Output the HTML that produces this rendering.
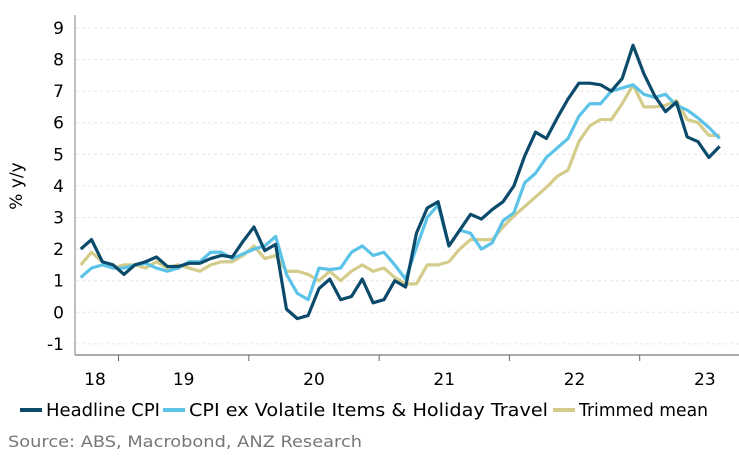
<!DOCTYPE html>
<html><head><meta charset="utf-8"><style>
body{margin:0;background:#fff;font-family:"DejaVu Sans","Liberation Sans",sans-serif;}
svg text{font-family:"DejaVu Sans","Liberation Sans",sans-serif;}
</style></head><body>
<svg id="chart" width="739" height="459" xmlns="http://www.w3.org/2000/svg">
<g id="grid"></g>
<g id="yaxis"></g>
<g id="xaxis"></g>
<g id="series"></g>
<text transform="translate(22,186) rotate(-90)" text-anchor="middle" font-size="17" fill="#000">% y/y</text>
<g font-size="17.5" fill="#000">
<g><line x1="20" y1="410" x2="42" y2="410" stroke="#0b4a6b" stroke-width="4"/><text x="46" y="416" textLength="114" lengthAdjust="spacingAndGlyphs">Headline CPI</text></g>
<g><line x1="163" y1="410" x2="185" y2="410" stroke="#5cc3e8" stroke-width="4"/><text x="189" y="416" textLength="359" lengthAdjust="spacingAndGlyphs">CPI ex Volatile Items &amp; Holiday Travel</text></g>
<g><line x1="553" y1="410" x2="575" y2="410" stroke="#d3cc8b" stroke-width="4"/><text x="579" y="416" textLength="129" lengthAdjust="spacingAndGlyphs">Trimmed mean</text></g>
</g>
<text x="8" y="447" font-size="16" fill="#777" textLength="354" lengthAdjust="spacingAndGlyphs">Source: ABS, Macrobond, ANZ Research</text>
</svg>
<script>
const yTicks=[-1,0,1,2,3,4,5,6,7,8,9];
const yearLabels=["18","19","20","21","22","23"];
const headline=[2.0,2.3,1.6,1.5,1.2,1.5,1.6,1.75,1.45,1.45,1.55,1.55,1.7,1.8,1.75,2.25,2.7,1.95,2.15,0.1,-0.2,-0.1,0.75,1.05,0.4,0.5,1.05,0.3,0.4,1.0,0.8,2.5,3.3,3.5,2.1,2.6,3.1,2.95,3.25,3.5,4.0,4.95,5.7,5.5,6.15,6.75,7.25,7.25,7.2,7.0,7.4,8.45,7.55,6.85,6.35,6.65,5.55,5.4,4.9,5.25];
const exVolatile=[1.1,1.4,1.5,1.4,1.4,1.5,1.55,1.4,1.3,1.4,1.6,1.6,1.9,1.9,1.7,1.85,2.0,2.1,2.4,1.2,0.6,0.4,1.4,1.35,1.4,1.9,2.1,1.8,1.9,1.5,1.05,2.05,3.0,3.4,2.1,2.6,2.5,2.0,2.2,2.9,3.15,4.1,4.4,4.9,5.2,5.5,6.2,6.6,6.6,7.0,7.1,7.2,6.9,6.8,6.9,6.55,6.4,6.15,5.85,5.5];
const trimmed=[1.5,1.9,1.6,1.4,1.5,1.5,1.4,1.6,1.4,1.5,1.4,1.3,1.5,1.6,1.6,1.8,2.1,1.7,1.8,1.3,1.3,1.2,1.0,1.3,1.0,1.3,1.5,1.3,1.4,1.1,0.9,0.9,1.5,1.5,1.6,2.0,2.3,2.3,2.3,2.7,3.05,3.35,3.65,3.95,4.3,4.5,5.4,5.9,6.1,6.1,6.6,7.2,6.5,6.5,6.55,6.7,6.1,6.0,5.6,5.6];
const NS="http://www.w3.org/2000/svg";
const yScale=v=>312.3-31.6*v;
const xScale=i=>80.7+i*10.83;
function mk(tag,attrs,parent){const e=document.createElementNS(NS,tag);for(const k in attrs)e.setAttribute(k,attrs[k]);parent.appendChild(e);return e;}
const grid=document.getElementById('grid'),ya=document.getElementById('yaxis'),xa=document.getElementById('xaxis'),ser=document.getElementById('series');
yTicks.forEach(v=>{
 const l=mk('line',{x1:76,x2:739,y1:yScale(v),y2:yScale(v),stroke:'#e6e6e6','stroke-dasharray':'3,3'},grid);
 
 
 const t=mk('text',{x:64,y:yScale(v)+6,'text-anchor':'end','font-size':17,fill:'#000'},ya);
 t.textContent=v;
 
 
});
mk('line',{x1:75,x2:75,y1:15,y2:355,stroke:'#aaa','stroke-width':1.5},ya);
mk('line',{x1:75,x2:739,y1:355,y2:355,stroke:'#aaa','stroke-width':2},xa);
const firstTick=118.5,yearW=130.3;
for(let k=0;k<5;k++){mk('line',{x1:firstTick+k*yearW,x2:firstTick+k*yearW,y1:355,y2:361,stroke:'#666'},xa);}
yearLabels.forEach((lab,k)=>{
 let x=firstTick+(k-0.5)*yearW; if(k===0)x=95;
 const t=mk('text',{x:x,y:385,'text-anchor':'middle','font-size':17,fill:'#000'},xa);
 t.textContent=lab;
 
 
});
function line(data,color,name){
 const p=mk('polyline',{points:data.map((v,i)=>xScale(i)+','+yScale(v)).join(' '),fill:'none',stroke:color,'stroke-width':3.2,'stroke-linejoin':'round'},ser);
 
 
}
line(trimmed,'#d3cc8b','trimmed-mean-line');
line(exVolatile,'#5cc3e8','cpi-ex-volatile-line');
line(headline,'#0b4a6b','headline-cpi-line');
</script>
</body></html>
